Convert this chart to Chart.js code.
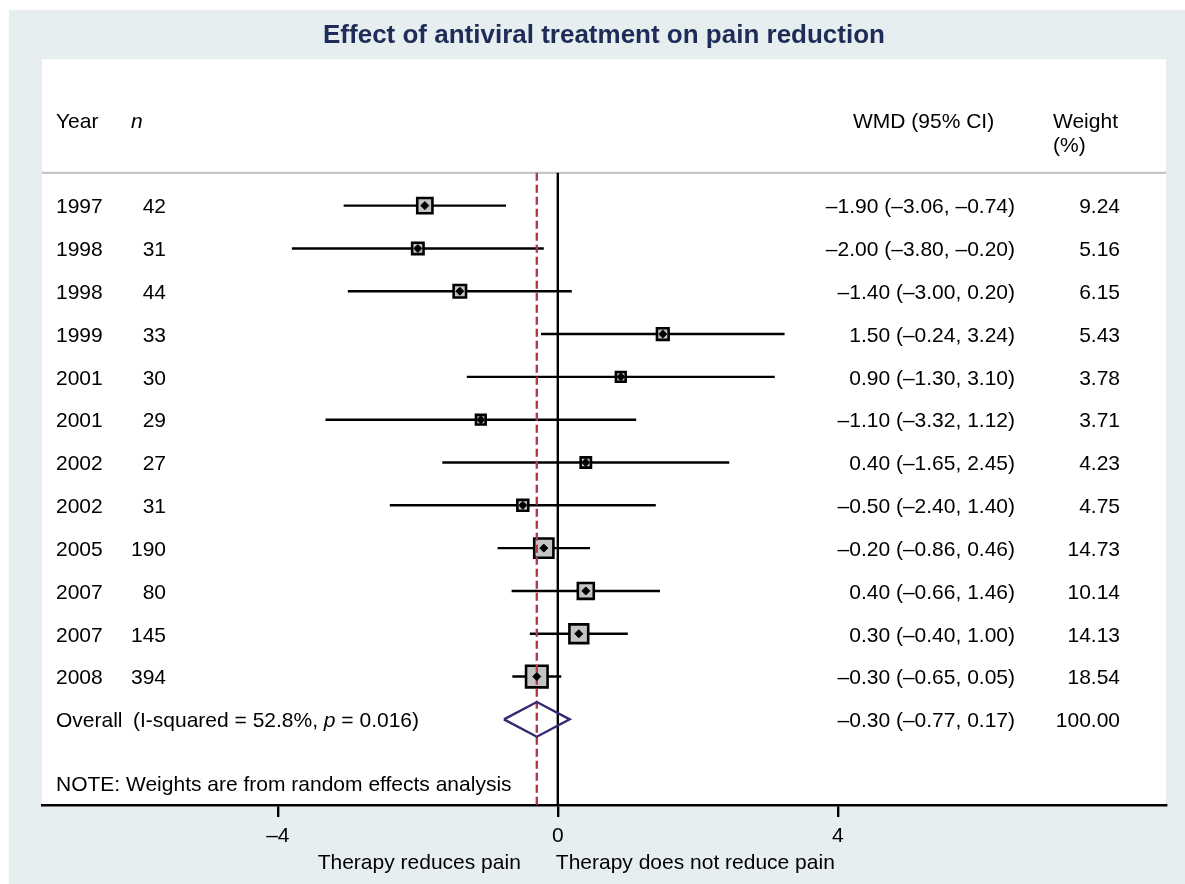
<!DOCTYPE html>
<html>
<head>
<meta charset="utf-8">
<title>Effect of antiviral treatment on pain reduction</title>
<script src="https://cdn.jsdelivr.net/npm/chart.js@4/dist/chart.umd.min.js"></script>
<style>
  html, body { margin: 0; padding: 0; background: #fff; }
  canvas { display: block; }
</style>
</head>
<body>
<canvas id="forest" width="1185" height="884"></canvas>
<script>
// study rows, top to bottom
const studyYears = ['1997', '1998', '1998', '1999', '2001', '2001', '2002', '2002', '2005', '2007', '2007', '2008'];
const studyN = [42, 31, 44, 33, 30, 29, 27, 31, 190, 80, 145, 394];
const wmd = [-1.90, -2.00, -1.40, 1.50, 0.90, -1.10, 0.40, -0.50, -0.20, 0.40, 0.30, -0.30];
const ciLow = [-3.06, -3.80, -3.00, -0.24, -1.30, -3.32, -1.65, -2.40, -0.86, -0.66, -0.40, -0.65];
const ciHigh = [-0.74, -0.20, 0.20, 3.24, 3.10, 1.12, 2.45, 1.40, 0.46, 1.46, 1.00, 0.05];
const weights = [9.24, 5.16, 6.15, 5.43, 3.78, 3.71, 4.23, 4.75, 14.73, 10.14, 14.13, 18.54];

// pooled (random effects) result
const overallWmd = -0.30;
const overallLow = -0.77;
const overallHigh = 0.17;
const overallWeight = 100.00;
const iSquared = '52.8%';
const pHet = '0.016';

const xTicks = [-4, 0, 4];
const leftLabel = 'Therapy reduces pain';
const rightLabel = 'Therapy does not reduce pain';

const overallRow = studyYears.length;
const headerRow = -2;
const ruleRow = -0.765;
const noteRow = 13.5;
const yTop = -3.42, yBottom = 14;

const FONT = '"Liberation Sans", Arial, Helvetica, sans-serif';
const LW = 2.4;
const fmt = v => (v < 0 ? '\u2013' : '') + Math.abs(v).toFixed(2);

// box area proportional to weight
const boxSide = w => 5 * Math.sqrt(w);

const ciSets = studyYears.map((_, i) => ({
  data: [{ x: ciLow[i], y: i }, { x: ciHigh[i], y: i }],
  showLine: true,
  borderColor: '#000',
  borderWidth: LW,
  pointRadius: 0,
  order: 4
}));

const datasets = [
  // reference line at no effect
  {
    data: [{ x: 0, y: ruleRow }, { x: 0, y: yBottom }],
    showLine: true, borderColor: '#000', borderWidth: LW, pointRadius: 0, order: 6
  },
  ...ciSets,
  {
    data: wmd.map((v, i) => ({ x: v, y: i })),
    pointStyle: 'rect',
    pointRadius: ctx => boxSide(weights[ctx.dataIndex]) / Math.SQRT2,
    backgroundColor: '#c4c4c4',
    borderColor: '#000',
    borderWidth: 2.6,
    order: 3
  },
  // pooled estimate line
  {
    data: [{ x: overallWmd, y: ruleRow }, { x: overallWmd, y: yBottom }],
    showLine: true, borderColor: '#b13a48', borderWidth: LW, borderDash: [8, 4],
    pointRadius: 0, order: 2
  },
  {
    data: wmd.map((v, i) => ({ x: v, y: i })),
    pointStyle: 'rectRot',
    pointRadius: 4,
    backgroundColor: '#000',
    borderColor: '#000',
    borderWidth: 1,
    order: 1
  },
  // overall diamond
  {
    data: [
      { x: overallLow, y: overallRow },
      { x: overallWmd, y: overallRow - 0.405 },
      { x: overallHigh, y: overallRow },
      { x: overallWmd, y: overallRow + 0.405 },
      { x: overallLow, y: overallRow }
    ],
    showLine: true, borderColor: '#392873', borderWidth: LW, borderJoinStyle: 'miter',
    pointRadius: 0, order: 1
  }
];

const forestTable = {
  id: 'forestTable',
  beforeDraw(chart) {
    const { ctx, chartArea: a } = chart;
    ctx.save();
    ctx.fillStyle = '#fff';
    ctx.fillRect(0, 0, chart.width, chart.height);
    ctx.fillStyle = '#e6eef0';
    ctx.fillRect(9, 10, chart.width - 9, chart.height - 10);
    ctx.fillStyle = '#fff';
    ctx.fillRect(a.left, a.top, a.right - a.left, a.bottom - a.top);
    ctx.restore();
  },
  beforeDatasetsDraw(chart) {
    const { ctx, chartArea: a } = chart;
    const y = chart.scales.y.getPixelForValue(ruleRow);
    ctx.save();
    ctx.strokeStyle = '#c6c6c6';
    ctx.lineWidth = 2.4;
    ctx.beginPath();
    ctx.moveTo(a.left, y);
    ctx.lineTo(a.right, y);
    ctx.stroke();
    ctx.restore();
  },
  afterDraw(chart) {
    const { ctx } = chart;
    const ys = chart.scales.y, xs = chart.scales.x;
    const put = (txt, x, row, align, style) => {
      ctx.font = (style || '') + ' 21px ' + FONT;
      ctx.textAlign = align;
      const y = typeof row === 'number' ? ys.getPixelForValue(row) + 2 : row.px;
      ctx.fillText(txt, x, y);
    };
    ctx.save();
    ctx.fillStyle = '#000';
    ctx.textBaseline = 'middle';

    // column headers
    put('Year', 56, headerRow, 'left');
    put('n', 131, headerRow, 'left', 'italic');
    put('WMD (95% CI)', 853, headerRow, 'left');
    put('Weight', 1053, headerRow, 'left');
    put('(%)', 1053, headerRow + 0.56, 'left');

    studyYears.forEach((yr, i) => {
      put(yr, 56, i, 'left');
      put(String(studyN[i]), 166, i, 'right');
      put(fmt(wmd[i]) + ' (' + fmt(ciLow[i]) + ', ' + fmt(ciHigh[i]) + ')', 1015, i, 'right');
      put(weights[i].toFixed(2), 1120, i, 'right');
    });

    // overall row with heterogeneity stats
    put('Overall', 56, overallRow, 'left');
    ctx.font = '21px ' + FONT;
    const part1 = '(I-squared = ' + iSquared + ', ';
    const w1 = ctx.measureText(part1).width;
    put(part1, 133, overallRow, 'left');
    put('p', 133 + w1, overallRow, 'left', 'italic');
    ctx.font = 'italic 21px ' + FONT;
    const wp = ctx.measureText('p').width;
    put(' = ' + pHet + ')', 133 + w1 + wp, overallRow, 'left');
    put(fmt(overallWmd) + ' (' + fmt(overallLow) + ', ' + fmt(overallHigh) + ')', 1015, overallRow, 'right');
    put(overallWeight.toFixed(2), 1120, overallRow, 'right');

    put('NOTE: Weights are from random effects analysis', 56, noteRow, 'left');

    // direction labels under the axis
    const x0 = xs.getPixelForValue(0);
    const ly = { px: xs.bottom - 21 };
    put(leftLabel, x0 - 37, ly, 'right');
    put(rightLabel, x0 - 2, ly, 'left');
    ctx.restore();
  }
};

new Chart(document.getElementById('forest'), {
  type: 'scatter',
  data: { datasets },
  plugins: [forestTable],
  options: {
    responsive: false,
    animation: false,
    events: [],
    layout: { padding: { left: 42, right: 19, top: 0, bottom: 0 } },
    plugins: {
      legend: { display: false },
      tooltip: { enabled: false },
      title: {
        display: true,
        text: 'Effect of antiviral treatment on pain reduction',
        color: '#1e2c58',
        font: { family: FONT, size: 26, weight: 'bold' },
        padding: { top: 20, bottom: 8 }
      }
    },
    scales: {
      x: {
        type: 'linear',
        min: -7.37,
        max: 8.69,
        afterBuildTicks: s => { s.ticks = xTicks.map(v => ({ value: v })); },
        afterFit: s => { s.height = 79; },
        border: { display: true, color: '#000', width: 2.4 },
        grid: { drawOnChartArea: false, drawTicks: true, tickLength: 12, color: '#000', lineWidth: 2.4 },
        ticks: {
          color: '#000',
          padding: 7,
          maxRotation: 0,
          font: { family: FONT, size: 21 },
          callback: v => (v < 0 ? '\u2013' + Math.abs(v) : String(v))
        }
      },
      y: {
        type: 'linear',
        reverse: true,
        min: yTop,
        max: yBottom,
        display: false
      }
    }
  }
});
</script>
</body>
</html>
